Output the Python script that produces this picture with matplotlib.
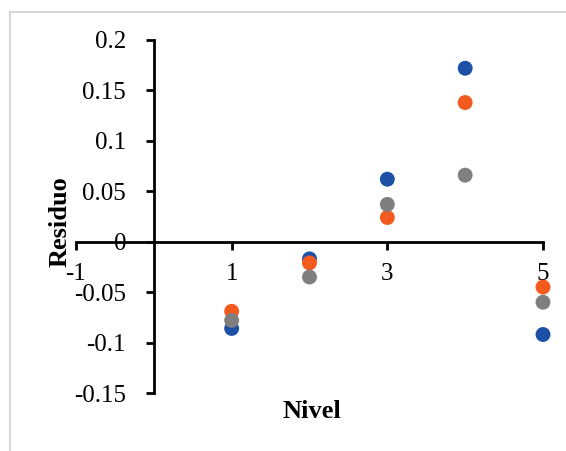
import matplotlib
matplotlib.use("Agg")
import matplotlib.pyplot as plt
from matplotlib.lines import Line2D

# Residuals per level for three series
niveles = [1, 2, 3, 4, 5]
serie_azul = [-0.086, -0.017, 0.062, 0.172, -0.092]
serie_naranja = [-0.069, -0.021, 0.024, 0.138, -0.045]
serie_gris = [-0.078, -0.035, 0.037, 0.066, -0.060]

x_ticks = [-1, 1, 3, 5]
x_labels = ["-1", "1", "3", "5"]
y_ticks = [-0.15, -0.1, -0.05, 0, 0.05, 0.1, 0.15, 0.2]
y_labels = ["-0.15", "-0.1", "-0.05", "0", "0.05", "0.1", "0.15", "0.2"]

plt.rcParams["font.family"] = ["Liberation Serif", "DejaVu Serif"]

fig = plt.figure(figsize=(5.66, 4.51), dpi=100)
fig.patch.set_facecolor("white")

# thin frame around the chart area
fig.add_artist(Line2D([10 / 566, 10 / 566], [0, 1 - 12 / 451],
                      transform=fig.transFigure, color="#d6d6d6", lw=1.5))
fig.add_artist(Line2D([10 / 566, 1], [1 - 12 / 451, 1 - 12 / 451],
                      transform=fig.transFigure, color="#d6d6d6", lw=1.5))

ax = fig.add_axes([76 / 566, 58 / 451, 467 / 566, 353 / 451])
ax.set_xlim(-1, 5)
ax.set_ylim(-0.15, 0.2)

for vals, col in [(serie_azul, "#1c4fa6"), (serie_naranja, "#f25a1e"), (serie_gris, "#7f7f7f")]:
    ax.scatter(niveles, vals, s=115, color=col, edgecolors="none", zorder=3, clip_on=False)

ax.spines["top"].set_visible(False)
ax.spines["right"].set_visible(False)
ax.spines["left"].set_position(("data", 0))
ax.spines["bottom"].set_position(("data", 0))
for sp in ("left", "bottom"):
    ax.spines[sp].set_linewidth(2)
    ax.spines[sp].set_color("black")

ax.set_xticks(x_ticks)
ax.set_xticklabels(x_labels)
ax.set_yticks(y_ticks)
ax.set_yticklabels(y_labels)
ax.tick_params(axis="both", direction="out", length=6, width=2, labelsize=18, colors="black")
ax.tick_params(axis="x", pad=9)
ax.tick_params(axis="y", pad=14)

fig.text(312 / 566, 1 - 412 / 451, "Nivel", ha="center", va="center",
         fontsize=19, fontweight="bold")
fig.text(60 / 566, 1 - 222 / 451, "Residuo", ha="center", va="center",
         fontsize=19, fontweight="bold", rotation=90)

fig.savefig("out.png", dpi=100, facecolor="white")
